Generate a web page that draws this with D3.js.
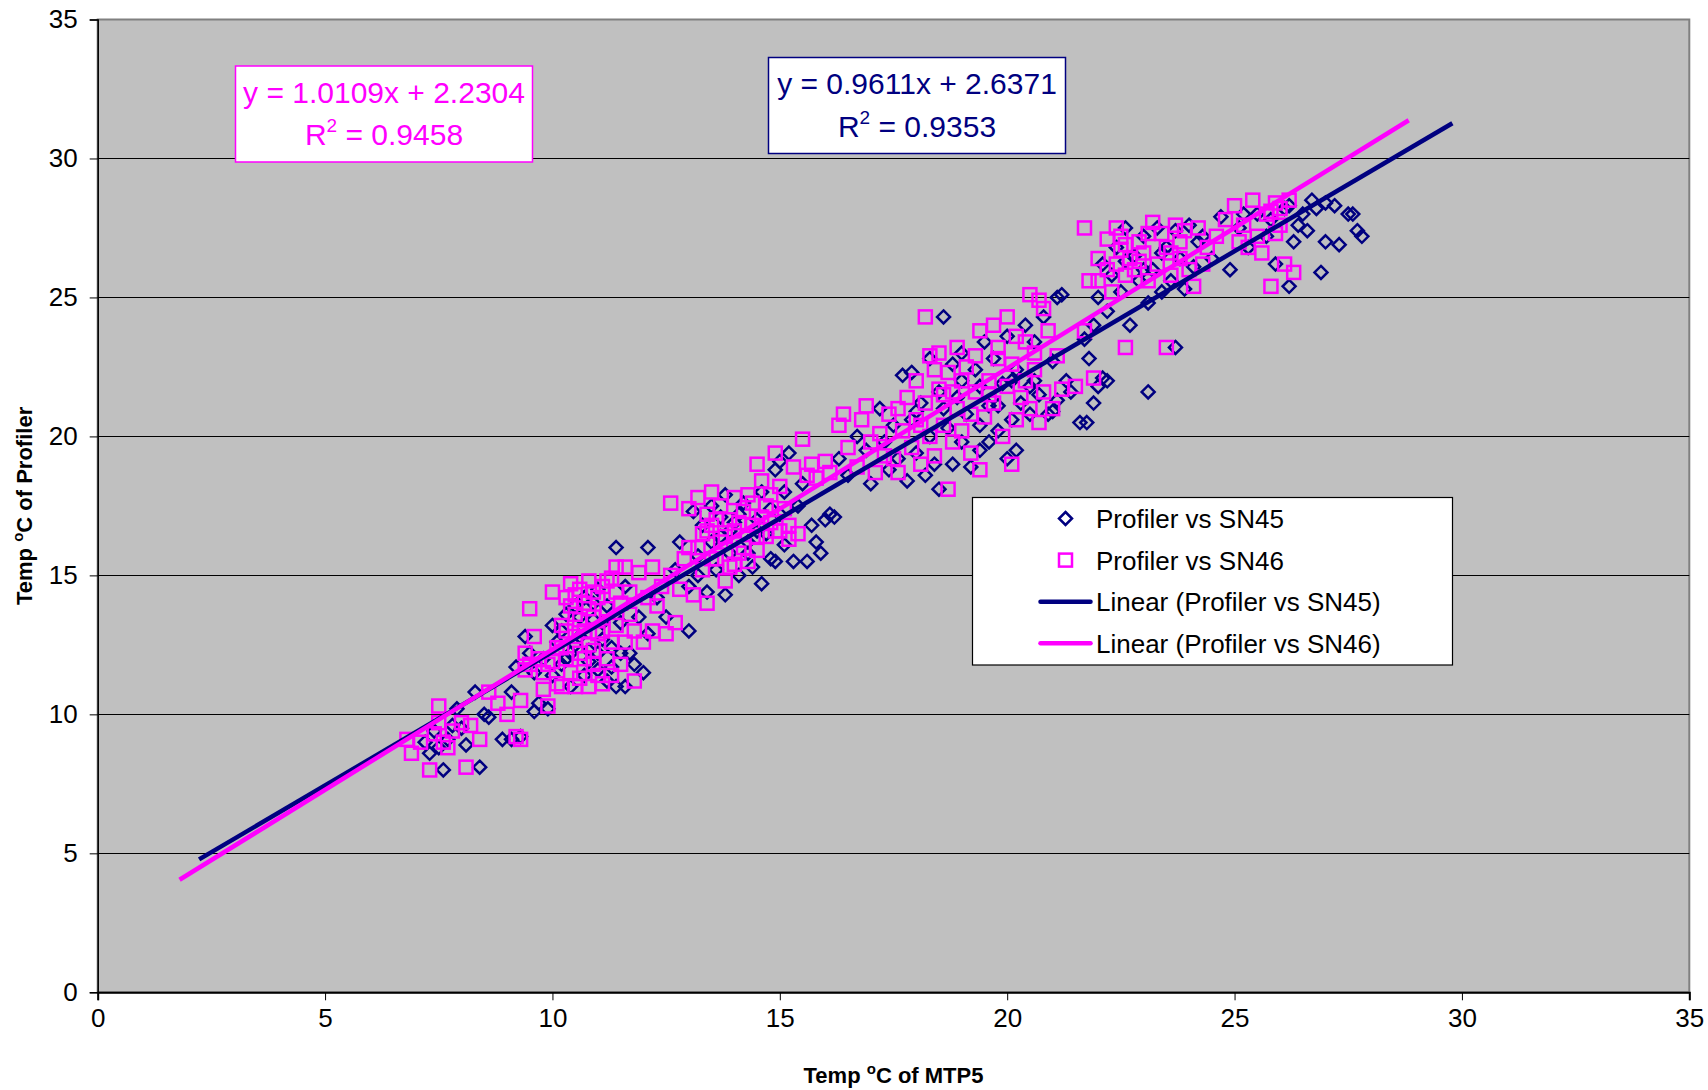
<!DOCTYPE html>
<html>
<head>
<meta charset="utf-8">
<script src="https://cdn.jsdelivr.net/npm/d3@7"></script>
<style>
  body { margin: 0; background: #fff; }
  text { font-family: Arial, "Liberation Sans", sans-serif; }
</style>
</head>
<body>
<svg></svg>
<script>
// data: [MTP5 temp, profiler temp]
const sn45 = [
  [7.2,9.0],[7.3,8.6],[7.4,9.4],[7.5,8.8],[7.6,8.0],[7.7,9.1],[7.8,9.6],[7.9,10.2],[8.0,9.5],[8.1,8.9],
  [8.3,10.8],[8.4,8.1],[8.5,10.0],[8.6,9.9],[8.9,9.1],[9.1,9.1],[9.3,9.2],[9.1,10.8],
  [9.2,11.7],[9.4,12.8],[9.5,12.2],[9.6,10.1],[9.7,10.4],[9.8,12.0],[9.9,10.2],[10.0,13.2],[10.0,11.4],
  [10.1,12.6],[10.2,11.8],[10.3,13.6],[10.4,12.2],[10.4,11.0],[10.5,13.9],[10.6,12.8],[10.7,11.4],
  [10.7,14.2],[10.8,12.3],[10.9,13.4],[11.0,11.6],[11.0,14.5],[11.1,12.7],[11.2,11.2],[11.2,13.9],
  [11.3,12.4],[11.4,16.0],[11.4,11.0],[11.5,13.3],[11.6,11.0],[11.6,14.6],[11.7,12.2],[11.8,11.8],
  [11.9,13.5],[12.0,11.5],[12.1,16.0],[12.1,12.9],
  [10.3,12.0],[10.5,12.5],[10.6,13.5],[10.8,11.9],[10.9,14.0],[11.0,12.2],[11.1,13.3],[11.3,11.7],
  [11.5,12.2],[10.2,13.0],[9.6,11.5],
  [12.3,14.2],[12.5,13.5],[12.7,15.2],[12.8,16.2],[13.0,13.0],[13.0,14.6],[13.1,17.3],[13.2,15.7],
  [13.3,16.8],[13.4,14.4],[13.5,17.5],[13.6,15.2],[13.7,16.4],[13.8,14.3],[13.8,17.9],[13.9,15.8],
  [14.0,16.9],[14.1,15.0],[14.2,17.6],[14.3,16.2],[14.4,15.3],[14.5,17.0],[14.6,14.7],[14.6,18.0],
  [14.7,16.5],[14.8,15.6],[14.9,18.8],[15.0,17.2],[15.1,16.1],[15.2,19.4],[15.3,15.5],[15.4,17.5],
  [15.5,18.3],[15.6,15.5],[15.7,16.8],[15.8,16.2],[15.9,15.8],[16.0,17.0],[16.1,17.2],[16.2,17.1],
  [15.0,19.1],[14.9,15.5],
  [13.5,16.2],[13.7,17.1],[13.9,16.6],[14.1,17.2],[14.3,15.8],[14.5,16.6],[14.8,17.4],[15.1,18.0],[13.2,15.0],
  [16.3,19.2],[16.5,18.6],[16.7,20.0],[16.9,19.5],[17.0,18.3],[17.2,21.0],[17.3,19.8],
  [17.4,18.8],[17.5,20.4],[17.6,19.2],[17.7,22.2],[17.8,18.4],[17.9,22.3],[17.9,20.6],[18.0,19.4],
  [18.1,21.2],[18.2,18.6],[18.3,22.8],[18.3,20.0],[18.4,19.0],[18.5,18.1],[18.5,21.6],[18.6,24.3],
  [18.7,20.3],[18.8,22.6],[18.8,19.0],[18.9,21.4],[19.0,23.0],[19.0,19.8],[19.1,20.8],[19.2,18.9],
  [19.3,22.4],[19.4,20.4],[19.5,23.4],[19.6,21.1],[19.6,19.8],[19.7,22.8],[19.8,20.2],[19.9,21.9],
  [20.0,19.2],[20.0,23.6],[20.1,20.6],[20.2,22.4],[20.2,19.5],[20.3,21.2],[20.4,24.0],[20.5,20.8],
  [20.6,22.0],[20.7,21.5],[20.8,24.3],[20.9,20.8],[21.0,22.7],[21.1,21.3],[21.2,25.1],[21.3,22.0],
  [21.1,25.0],[19.4,19.5],
  [18.6,21.0],[19.0,22.0],[19.4,21.8],[19.8,21.1],[20.1,22.0],[20.5,21.8],[20.6,23.4],[21.0,20.9],[18.0,20.9],
  [21.4,21.6],[21.6,20.5],[21.75,20.5],[21.8,22.8],[21.9,21.2],[22.0,21.8],[22.1,22.1],[22.2,22.0],
  [23.1,21.6],[23.7,23.2],[21.7,23.5],
  [21.9,24.0],[22.0,25.0],[22.1,26.2],[22.2,24.5],[22.3,25.8],[22.4,26.8],[22.5,25.2],[22.6,27.5],
  [22.7,24.0],[22.8,26.5],[22.9,25.6],[23.0,27.2],[23.1,24.8],[23.2,26.0],[23.3,27.5],[23.4,25.2],
  [23.5,26.8],[23.6,25.6],[23.7,27.4],[23.8,26.4],[23.9,25.3],[24.0,27.6],[24.1,26.1],[24.3,27.2],
  [24.5,26.4],[24.7,27.9],[24.9,26.0],[25.1,27.5],[25.3,26.8],[25.5,28.0],[25.7,27.2],[25.9,26.2],
  [26.1,28.2],[26.2,25.4],[26.3,27.0],[26.5,28.0],[26.6,27.4],[26.8,28.2],[26.9,25.9],[27.0,27.0],
  [27.2,28.3],[27.3,26.9],[27.5,28.0],[27.6,28.0],[27.7,27.4],[27.8,27.2],[26.7,28.5],[26.4,27.6],
  [22.6,26.3],[23.0,26.0],[23.4,26.6],[24.2,27.0],[25.2,28.0],[25.8,27.8],[26.2,28.3],[27.0,28.4]
];

const sn46 = [
  [6.8,9.1],[6.9,8.6],[7.1,9.0],[7.3,8.0],[7.4,9.3],[7.5,10.3],[7.5,9.7],[7.6,9.0],[7.7,8.8],[7.8,9.4],
  [8.0,9.7],[8.1,8.1],[8.2,9.6],[8.4,9.1],[8.6,10.8],[8.8,10.4],[9.0,10.0],[9.2,9.2],[9.3,9.1],[9.3,10.5],
  [9.4,12.2],[9.4,11.6],[9.5,11.8],[9.5,13.8],[9.6,12.8],[9.7,12.0],[9.8,11.5],[9.8,10.9],[9.9,10.3],
  [10.0,11.9],[10.1,12.4],[10.1,11.1],[10.2,11.0],[10.2,13.2],[10.3,14.2],[10.3,12.0],[10.4,14.7],
  [10.4,11.5],[10.5,13.6],[10.5,12.8],[10.6,14.5],[10.6,11.3],[10.6,12.2],[10.7,14.0],[10.7,13.0],
  [10.8,11.0],[10.8,14.8],[10.8,12.5],[10.9,13.5],[10.9,11.8],[11.0,14.2],[11.0,12.9],[11.1,14.6],
  [11.1,11.1],[11.2,13.8],[11.2,12.0],[11.3,14.9],[11.3,11.4],[11.4,13.2],[11.4,15.3],[11.5,14.0],
  [11.5,11.8],[11.6,12.6],[11.6,15.3],[11.7,14.4],[11.8,13.0],[11.9,15.1],[12.0,12.6],[12.1,14.2],
  [12.2,13.0],[12.2,15.3],[10.0,14.4],[10.5,11.0],[11.8,11.2],
  [10.3,13.0],[10.4,13.9],[10.5,14.3],[10.6,13.4],[10.7,12.0],[10.8,13.8],[10.9,14.4],[11.0,11.4],
  [11.1,13.0],[11.2,14.8],[11.3,12.6],[11.4,14.4],[10.9,12.3],[10.2,12.4],[9.9,11.8],[11.7,13.6],
  [12.3,13.9],[12.4,14.6],[12.5,12.9],[12.6,15.0],[12.6,17.6],[12.7,13.3],[12.8,14.5],[12.9,15.6],
  [13.0,17.4],[13.0,16.0],[13.1,14.3],[13.2,17.8],[13.3,16.5],[13.3,15.2],[13.4,17.2],[13.4,14.0],
  [13.5,16.8],[13.5,18.0],[13.6,15.6],[13.7,17.5],[13.7,16.2],[13.8,14.8],[13.9,17.0],[13.9,15.3],
  [14.0,16.6],[14.0,17.8],[14.1,15.8],[14.2,17.3],[14.2,16.0],[14.3,15.5],[14.4,17.6],[14.4,16.8],
  [14.5,19.0],[14.5,15.9],[14.6,18.4],[14.6,17.1],[14.7,16.4],[14.8,17.9],[14.9,19.4],[14.9,16.6],
  [15.0,18.2],[15.1,17.4],[15.2,16.8],[15.3,18.9],[15.4,16.5],[15.5,19.9],[15.6,18.6],[15.7,19.0],
  [15.8,18.5],[16.0,19.1],[16.1,18.7],[15.2,16.3],
  [13.2,16.0],[13.4,16.6],[13.6,17.0],[13.8,16.4],[14.0,15.4],[14.1,16.9],[14.3,17.9],[14.5,16.4],
  [14.7,17.5],[13.5,15.6],[14.8,16.9],[15.0,16.6],
  [16.3,20.4],[16.4,20.8],[16.5,19.6],[16.7,18.9],[16.8,20.6],[16.9,21.1],[17.0,19.8],[17.1,18.7],
  [17.2,20.1],[17.3,19.3],
  [17.4,20.8],[17.5,19.2],[17.6,21.0],[17.6,18.7],[17.7,20.2],[17.8,21.4],[17.9,19.6],[18.0,20.6],
  [18.0,22.0],[18.1,19.0],[18.2,24.3],[18.2,21.2],[18.3,20.0],[18.3,22.9],[18.4,19.3],[18.5,21.7],
  [18.5,23.0],[18.6,20.4],[18.7,18.1],[18.7,22.3],[18.8,19.8],[18.9,21.0],[18.9,23.2],[19.0,20.2],
  [19.1,22.5],[19.2,19.4],[19.3,21.6],[19.4,18.8],[19.4,23.8],[19.5,20.7],[19.6,22.0],[19.7,24.0],
  [19.7,21.2],[19.8,23.2],[19.9,20.0],[20.0,21.8],[20.0,24.3],[20.1,19.0],[20.1,22.6],[20.2,20.6],
  [20.3,21.4],[20.4,23.4],[20.5,25.1],[20.5,21.0],[20.6,22.4],[20.7,24.9],[20.7,20.5],[20.8,21.6],
  [20.9,23.8],[21.0,21.0],[21.1,22.9],[21.2,21.7],[19.0,22.0],[18.6,21.5],
  [18.4,22.4],[18.8,21.6],[19.2,20.8],[19.6,21.5],[19.8,22.8],[20.2,23.6],[20.4,22.0],[20.6,23.0],
  [20.8,24.6],[19.3,22.9],[18.1,20.4],
  [21.5,21.8],[21.7,23.8],[21.9,22.1],[22.6,23.2],[23.5,23.2],
  [21.7,27.5],[21.8,25.6],[22.0,25.6],[22.0,26.4],[22.2,26.0],[22.3,25.2],[22.4,27.5],[22.5,26.7],
  [22.5,27.2],[22.6,25.8],[22.7,26.4],[22.8,26.0],[22.9,27.0],[23.0,26.6],[23.1,25.6],[23.2,27.7],
  [23.3,26.2],[23.4,27.3],[23.5,26.8],[23.6,25.8],[23.7,27.6],[23.8,26.4],[23.9,27.4],[24.0,26.0],
  [24.1,25.4],[24.2,27.5],[24.4,26.8],[24.6,27.2],[24.8,27.8],[25.0,28.3],[25.1,27.0],[25.2,27.6],
  [25.3,26.8],[25.4,28.5],[25.5,27.2],[25.6,26.6],[25.7,28.0],[25.8,25.4],[25.9,28.4],[26.0,27.6],
  [26.1,26.2],[26.2,28.5],[26.3,25.9],[25.8,28.1],[26.0,28.2],
  [22.4,26.2],[22.6,26.9],[22.9,26.3],[23.1,27.3],[23.6,26.6],[23.8,27.0],[24.3,26.2],[22.2,27.1],[25.9,27.3]
];

// trendlines (slope, intercept) and drawn x extent
const fit45 = { slope: 0.9611, intercept: 2.6371, r2: "0.9353", x: [2.23, 29.79] };
const fit46 = { slope: 1.0109, intercept: 2.2304, r2: "0.9458", x: [1.80, 28.83] };

const ticks = [0, 5, 10, 15, 20, 25, 30, 35];
const legendLabels = ["Profiler vs SN45", "Profiler vs SN46", "Linear (Profiler vs SN45)", "Linear (Profiler vs SN46)"];

const navy = "#000080";
const pink = "#FF00FF";

const svg = d3.select("svg").attr("width", 1708).attr("height", 1090);

const x = d3.scaleLinear().domain([0, 35]).range([97.7, 1689.3]);
const y = d3.scaleLinear().domain([0, 35]).range([992.3, 19.5]);

// plot area
svg.append("rect")
  .attr("x", x(0)).attr("y", y(35))
  .attr("width", x(35) - x(0)).attr("height", y(0) - y(35))
  .attr("fill", "#C0C0C0")
  .attr("stroke", "#808080").attr("stroke-width", 2);

// gridlines
svg.append("g")
  .selectAll("line")
  .data(ticks.filter((d) => d > 0 && d < 35))
  .enter()
  .append("line")
  .attr("x1", x(0)).attr("x2", x(35))
  .attr("y1", (d) => Math.round(y(d)) + 0.5).attr("y2", (d) => Math.round(y(d)) + 0.5)
  .attr("stroke", "#000").attr("stroke-width", 1);

// axes
const xAxis = svg.append("g")
  .attr("transform", `translate(0, ${y(0)})`)
  .call(d3.axisBottom(x).tickValues(ticks).tickSize(8).tickPadding(8).tickFormat(d3.format("d")));
const yAxis = svg.append("g")
  .attr("transform", `translate(${x(0)}, 0)`)
  .call(d3.axisLeft(y).tickValues(ticks).tickSize(8).tickPadding(12).tickFormat(d3.format("d")));

[xAxis, yAxis].forEach((g) => {
  g.select(".domain").attr("stroke", "#000").attr("stroke-width", 1.5);
  g.selectAll(".tick line").attr("stroke", "#000");
  g.selectAll(".tick text")
    .attr("fill", "#000")
    .attr("font-size", 26)
    .attr("font-family", "Arial, 'Liberation Sans', sans-serif");
});
xAxis.select(".domain").attr("stroke-width", 2);

// axis titles
const xTitle = svg.append("text")
  .attr("x", (x(0) + x(35)) / 2).attr("y", 1083)
  .attr("text-anchor", "middle")
  .attr("font-size", 22).attr("font-weight", "bold");
xTitle.append("tspan").text("Temp ");
xTitle.append("tspan").attr("font-size", 15).attr("dy", -9).text("o");
xTitle.append("tspan").attr("dy", 9).text("C of MTP5");

const yTitle = svg.append("text")
  .attr("transform", `translate(32, ${(y(0) + y(35)) / 2}) rotate(-90)`)
  .attr("text-anchor", "middle")
  .attr("font-size", 22).attr("font-weight", "bold");
yTitle.append("tspan").text("Temp ");
yTitle.append("tspan").attr("font-size", 15).attr("dy", -9).text("o");
yTitle.append("tspan").attr("dy", 9).text("C of Profiler");

// markers
const diamond = (s) => `M0,${-s}L${s},0L0,${s}L${-s},0Z`;

svg.append("g")
  .selectAll("path")
  .data(sn45)
  .enter()
  .append("path")
  .attr("d", diamond(6.5))
  .attr("transform", (d) => `translate(${x(d[0])}, ${y(d[1])})`)
  .attr("fill", "none")
  .attr("stroke", navy)
  .attr("stroke-width", 2.5);

svg.append("g")
  .selectAll("rect")
  .data(sn46)
  .enter()
  .append("rect")
  .attr("x", (d) => x(d[0]) - 6.5)
  .attr("y", (d) => y(d[1]) - 6.5)
  .attr("width", 13).attr("height", 13)
  .attr("fill", "none")
  .attr("stroke", pink)
  .attr("stroke-width", 2.5);

// trendlines
[[fit45, navy], [fit46, pink]].forEach(([f, c]) => {
  svg.append("line")
    .attr("x1", x(f.x[0])).attr("y1", y(f.slope * f.x[0] + f.intercept))
    .attr("x2", x(f.x[1])).attr("y2", y(f.slope * f.x[1] + f.intercept))
    .attr("stroke", c).attr("stroke-width", 4.5);
});

// equation boxes
function eqBox(f, c, bx, by, bw, bh) {
  const g = svg.append("g");
  g.append("rect")
    .attr("x", bx).attr("y", by).attr("width", bw).attr("height", bh)
    .attr("fill", "#fff").attr("stroke", c).attr("stroke-width", 1.5);
  const cx = bx + bw / 2;
  g.append("text")
    .attr("x", cx).attr("y", by + 36.5)
    .attr("text-anchor", "middle").attr("font-size", 30).attr("fill", c)
    .text(`y = ${f.slope.toFixed(4)}x + ${f.intercept.toFixed(4)}`);
  const t = g.append("text")
    .attr("x", cx).attr("y", by + 79)
    .attr("text-anchor", "middle").attr("font-size", 30).attr("fill", c);
  t.append("tspan").text("R");
  t.append("tspan").attr("font-size", 19).attr("dy", -13).text("2");
  t.append("tspan").attr("dy", 13).text(` = ${f.r2}`);
}
eqBox(fit46, pink, 235.5, 66, 297, 96);
eqBox(fit45, navy, 768.5, 57.5, 297, 96);

// legend
const legend = svg.append("g").attr("transform", "translate(972.5, 497.5)");
legend.append("rect")
  .attr("width", 480).attr("height", 167.5)
  .attr("fill", "#fff").attr("stroke", "#000").attr("stroke-width", 1.2);

legend
  .selectAll(".legend-item")
  .data(legendLabels)
  .enter()
  .append("g")
  .attr("class", "legend-item")
  .attr("transform", (d, i) => `translate(0, ${21 + i * 41.6})`)
  .each(function (d, i) {
    const item = d3.select(this);
    if (i === 0) {
      item.append("path").attr("d", diamond(6.5))
        .attr("transform", "translate(93, 0)")
        .attr("fill", "none").attr("stroke", navy).attr("stroke-width", 2.5);
    } else if (i === 1) {
      item.append("rect").attr("x", 86.5).attr("y", -6.5).attr("width", 13).attr("height", 13)
        .attr("fill", "none").attr("stroke", pink).attr("stroke-width", 2.5);
    } else {
      item.append("line").attr("x1", 68).attr("x2", 118)
        .attr("stroke", i === 2 ? navy : pink).attr("stroke-width", 4.5).attr("stroke-linecap", "round");
    }
    item.append("text")
      .attr("x", 123.5).attr("y", 9.5)
      .attr("font-size", 26).attr("fill", "#000")
      .text(d);
  });
</script>
</body>
</html>
